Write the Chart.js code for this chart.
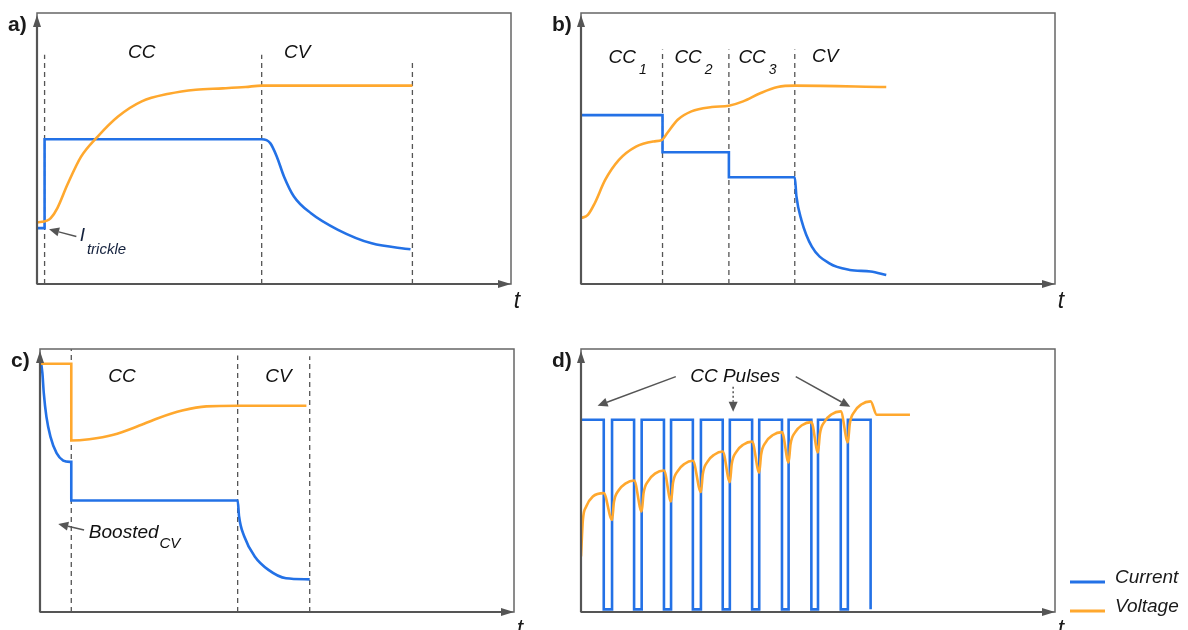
<!DOCTYPE html>
<html>
<head>
<meta charset="utf-8">
<script src="https://cdn.jsdelivr.net/npm/chart.js@4.4.1/dist/chart.umd.min.js"></script>
<style>
  html, body { margin: 0; padding: 0; background: #fff; }
  #wrap { position: relative; width: 1188px; height: 630px; overflow: hidden; }
  canvas { position: absolute; }
</style>
</head>
<body>
<div id="wrap">
  <canvas id="chart-a" width="545" height="318" style="left:0;top:0"></canvas>
  <canvas id="chart-b" width="643" height="318" style="left:545px;top:0"></canvas>
  <canvas id="chart-c" width="545" height="312" style="left:0;top:318px"></canvas>
  <canvas id="chart-d" width="643" height="312" style="left:545px;top:318px"></canvas>
</div>
<script>
// Time axis runs 0..100 across each box, values 0..100 bottom to top

// a) CC-CV with trickle
const aVoltT = [0, 2.1, 2.9, 4.3, 6.4, 9.3, 12.8, 17.1, 22.1, 27.8, 33.5, 39.2, 44, 47.4, 79.2];
const aVoltV = [22.7, 23.4, 24.3, 28.0, 36.6, 47.0, 54.4, 61.8, 67.4, 70.2, 71.7, 72.2, 72.7, 73.2, 73.2];
const aCurrT = [0, 1.6, 1.6, 47.4, 49.2, 50.6, 52.1, 54.2, 57.8, 63.5, 70.6, 78.8];
const aCurrI = [20.6, 20.6, 53.4, 53.4, 52.0, 47.0, 39.7, 32.3, 26.1, 20.0, 15.0, 12.8];
const aPhaseT = [1.6, 47.4, 79.2];
const aPhaseTop = [84.6, 84.6, 83.0];

// b) multi-stage CC
const bVoltT = [0, 1.45, 2.9, 5.1, 8.0, 11.6, 15.3, 17.1, 18.2, 20.4, 23.3, 27.6, 31.2, 34.2, 37.8, 41.5, 45.1, 64.4];
const bVoltV = [24.3, 25.5, 29.8, 38.4, 45.8, 50.7, 52.6, 53.2, 55.7, 60.6, 63.7, 65.3, 65.8, 67.4, 70.4, 72.7, 73.2, 72.7];
const bCurrT = [0, 17.2, 17.2, 31.2, 31.2, 45.1, 45.45, 46.5, 48.7, 52.4, 56.7, 61.1, 64.4];
const bCurrI = [62.3, 62.3, 48.6, 48.6, 39.4, 39.4, 32.3, 23.6, 13.8, 7.6, 5.2, 4.6, 3.3];
const bPhaseT = [17.2, 31.2, 45.1];
const bPhaseTop = [86.5, 86.5, 86.5];

// c) boosted CV start
const cVoltT = [0, 6.6, 6.6, 10.4, 15.5, 20.6, 24.9, 30.0, 35.1, 41.7, 56.2];
const cVoltV = [94.4, 94.4, 65.2, 65.7, 67.4, 70.6, 73.7, 76.6, 78.2, 78.4, 78.4];
const cCurrT = [0, 0.5, 0.8, 1.35, 2.2, 3.5, 4.9, 6.3, 6.6, 6.6, 41.7, 42.0, 43.1, 45.3, 48.2, 51.9, 56.9];
const cCurrI = [97, 90.9, 83.2, 74.3, 66.7, 60.4, 57.6, 57.1, 57.1, 42.4, 42.4, 36.3, 28.7, 21.1, 16.0, 12.8, 12.4];
const cPhaseT = [6.6, 41.7, 56.9];
const cPhaseTop = [100, 97.5, 97.2];

// d) pulse charging
const dPulseFall = [4.8, 11.2, 17.5, 23.6, 29.9, 36.1, 42.4, 48.6, 54.8, 61.1];
const dPulseRise = [6.55, 12.8, 19.0, 25.3, 31.4, 37.6, 43.8, 50.0, 56.3];
const dCurrHigh = 73.1;
const dCurrLow = 1.0;
const dVoltT = [
  0, 0.4, 1.1, 2.5, 4.8,
  6.55, 6.95, 7.95, 9.35, 11.2,
  12.8, 13.2, 14.2, 15.6, 17.5,
  19.0, 19.4, 20.4, 21.8, 23.6,
  25.3, 25.7, 26.7, 28.1, 29.9,
  31.4, 31.8, 32.8, 34.2, 36.1,
  37.6, 38.0, 39.0, 40.4, 42.4,
  43.8, 44.2, 45.2, 46.6, 48.6,
  50.0, 50.4, 51.4, 52.8, 54.8,
  56.3, 56.7, 57.7, 59.1, 61.1,
  62.4, 69.4
];
const dVoltV = [
  21.1, 35.0, 40.1, 43.9, 45.2,
  35.0, 41.8, 46.3, 48.8, 50.0,
  38.2, 45.2, 49.9, 52.6, 53.8,
  42.0, 49.0, 53.6, 56.3, 57.5,
  45.6, 52.5, 57.2, 59.8, 61.0,
  49.4, 56.3, 61.0, 63.6, 64.8,
  53.0, 59.9, 64.6, 67.2, 68.4,
  56.9, 63.8, 68.4, 71.0, 72.2,
  60.7, 67.7, 72.4, 75.1, 76.3,
  64.5, 71.5, 76.2, 78.9, 80.1,
  75.0, 75.0
];

const seriesNames = ["Current", "Voltage"];
const BLUE = "#2371e6";
const ORANGE = "#ffa82e";
const INK = "#555";
const FONT = '"Liberation Sans", Arial, sans-serif';

function pts(ts, vs) {
  return ts.map((t, i) => ({ x: t, y: vs[i] }));
}

function pulseTrain(falls, rises, hi, lo) {
  const out = [{ x: 0, y: hi }];
  falls.forEach((f, i) => {
    out.push({ x: f, y: hi }, { x: f, y: lo });
    if (i < rises.length) out.push({ x: rises[i], y: lo }, { x: rises[i], y: hi });
  });
  return out;
}

function phaseSets(ts, tops) {
  return ts.map((t, i) => ({
    data: [{ x: t, y: 0 }, { x: t, y: tops[i] }],
    borderColor: INK, borderWidth: 1.3, borderDash: [5, 4],
    pointRadius: 0, tension: 0
  }));
}

function arrow(ctx, x1, y1, x2, y2, dotted) {
  const ang = Math.atan2(y2 - y1, x2 - x1);
  const c = Math.cos(ang), s = Math.sin(ang);
  const head = 10, half = 4.5;
  ctx.save();
  ctx.strokeStyle = INK;
  ctx.fillStyle = INK;
  ctx.lineWidth = 1.5;
  if (dotted) ctx.setLineDash([2, 2.5]);
  ctx.beginPath();
  ctx.moveTo(x1, y1);
  ctx.lineTo(x2 - head * c, y2 - head * s);
  ctx.stroke();
  ctx.setLineDash([]);
  ctx.beginPath();
  ctx.moveTo(x2, y2);
  ctx.lineTo(x2 - head * c + half * s, y2 - head * s - half * c);
  ctx.lineTo(x2 - head * c - half * s, y2 - head * s + half * c);
  ctx.closePath();
  ctx.fill();
  ctx.restore();
}

function note(ctx, n, px, py) {
  const size = n.size || 19;
  ctx.font = "italic " + size + "px " + FONT;
  ctx.fillStyle = n.color || "#111";
  ctx.textBaseline = "middle";
  ctx.textAlign = "left";
  const w = ctx.measureText(n.text).width;
  const x0 = n.align === "left" ? px : px - w / 2;
  ctx.fillText(n.text, x0, py);
  if (n.sub) {
    ctx.font = "italic " + (n.subSize || 14) + "px " + FONT;
    ctx.fillText(n.sub, x0 + w + (n.gap || 2), py + (n.drop || 12));
  }
}

// frame, axes, labels, arrows and legend
const decor = {
  id: "decor",
  afterDatasetsDraw(chart, args, o) {
    const { ctx, chartArea: a, scales: { x, y } } = chart;
    ctx.save();
    ctx.strokeStyle = "#666";
    ctx.lineWidth = 1.5;
    ctx.strokeRect(a.left, a.top, a.right - a.left, a.bottom - a.top);

    // axes with heads
    ctx.strokeStyle = INK;
    ctx.lineWidth = 2.2;
    ctx.beginPath();
    ctx.moveTo(a.left, a.bottom);
    ctx.lineTo(a.left, a.top + 10);
    ctx.moveTo(a.left, a.bottom);
    ctx.lineTo(a.right - 10, a.bottom);
    ctx.stroke();
    ctx.fillStyle = INK;
    ctx.beginPath();
    ctx.moveTo(a.left, a.top + 2);
    ctx.lineTo(a.left - 4, a.top + 14);
    ctx.lineTo(a.left + 4, a.top + 14);
    ctx.closePath();
    ctx.fill();
    ctx.beginPath();
    ctx.moveTo(a.right, a.bottom);
    ctx.lineTo(a.right - 13, a.bottom - 4);
    ctx.lineTo(a.right - 13, a.bottom + 4);
    ctx.closePath();
    ctx.fill();

    // panel tag and t
    ctx.fillStyle = "#1a1a1a";
    ctx.font = "bold 21px " + FONT;
    ctx.textBaseline = "middle";
    ctx.textAlign = "left";
    ctx.fillText(o.tag, a.left - 29, a.top + 12);
    ctx.font = "italic 23px " + FONT;
    ctx.textAlign = "center";
    ctx.fillText("t", a.right + 6, a.bottom + 18);

    (o.arrows || []).forEach(r => {
      arrow(ctx, x.getPixelForValue(r[0]), y.getPixelForValue(r[1]),
        x.getPixelForValue(r[2]), y.getPixelForValue(r[3]), r[4]);
    });
    (o.notes || []).forEach(n => {
      note(ctx, n, x.getPixelForValue(n.t), y.getPixelForValue(n.v));
    });

    if (o.legend) {
      const rows = [[seriesNames[0], BLUE, -30], [seriesNames[1], ORANGE, -1]];
      rows.forEach(r => {
        const ly = a.bottom + r[2];
        ctx.strokeStyle = r[1];
        ctx.lineWidth = 3;
        ctx.beginPath();
        ctx.moveTo(a.right + 15, ly);
        ctx.lineTo(a.right + 50, ly);
        ctx.stroke();
        ctx.fillStyle = "#1a1a1a";
        ctx.font = "italic 19px " + FONT;
        ctx.textAlign = "left";
        ctx.fillText(r[0], a.right + 60, ly - 4);
      });
    }
    ctx.restore();
  }
};

function makeChart(id, volt, curr, phases, pad, deco) {
  const ctx = document.getElementById(id).getContext("2d");
  return new Chart(ctx, {
    type: "line",
    data: {
      datasets: [
        { label: seriesNames[1], data: volt, borderColor: ORANGE, borderWidth: 2.6,
          pointRadius: 0, cubicInterpolationMode: "monotone" },
        { label: seriesNames[0], data: curr, borderColor: BLUE, borderWidth: 2.6,
          pointRadius: 0, cubicInterpolationMode: deco.stepCurrent ? "default" : "monotone", tension: 0 }
      ].concat(phases)
    },
    options: {
      responsive: false,
      animation: false,
      events: [],
      layout: { padding: pad },
      scales: {
        x: { type: "linear", min: 0, max: 100, display: false },
        y: { min: 0, max: 100, display: false }
      },
      plugins: { legend: { display: false }, tooltip: { enabled: false }, decor: deco }
    },
    plugins: [decor]
  });
}

makeChart("chart-a", pts(aVoltT, aVoltV), pts(aCurrT, aCurrI), phaseSets(aPhaseT, aPhaseTop),
  { left: 37, top: 13, right: 34, bottom: 34 },
  {
    tag: "a)",
    notes: [
      { text: "CC", t: 22.1, v: 85.5 },
      { text: "CV", t: 54.9, v: 85.5 },
      { text: "I", sub: "trickle", t: 9.0, v: 17.7, align: "left", color: "#14213d", subSize: 15, gap: 0, drop: 14 }
    ],
    arrows: [[8.3, 17.5, 2.55, 20.2]]
  });

makeChart("chart-b", pts(bVoltT, bVoltV), pts(bCurrT, bCurrI), phaseSets(bPhaseT, bPhaseTop),
  { left: 36, top: 13, right: 133, bottom: 34 },
  {
    tag: "b)",
    notes: [
      { text: "CC", sub: "1", t: 8.7, v: 83.4, gap: 3 },
      { text: "CC", sub: "2", t: 22.6, v: 83.4, gap: 3 },
      { text: "CC", sub: "3", t: 36.1, v: 83.4, gap: 3 },
      { text: "CV", t: 51.5, v: 84.0 }
    ]
  });

makeChart("chart-c", pts(cVoltT, cVoltV), pts(cCurrT, cCurrI), phaseSets(cPhaseT, cPhaseTop),
  { left: 40, top: 31, right: 31, bottom: 18 },
  {
    tag: "c)",
    notes: [
      { text: "CC", t: 17.3, v: 89.3 },
      { text: "CV", t: 50.3, v: 89.6 },
      { text: "Boosted", sub: "CV", t: 10.3, v: 30.3, align: "left", subSize: 15, gap: 1, drop: 12 }
    ],
    arrows: [[9.3, 31.2, 3.85, 33.5]]
  });

makeChart("chart-d", pts(dVoltT, dVoltV), pulseTrain(dPulseFall, dPulseRise, dCurrHigh, dCurrLow), [],
  { left: 36, top: 31, right: 133, bottom: 18 },
  {
    tag: "d)",
    stepCurrent: true,
    legend: true,
    notes: [{ text: "CC Pulses", t: 32.5, v: 89.4 }],
    arrows: [
      [20.0, 89.5, 3.5, 78.4],
      [45.3, 89.5, 56.8, 78.0],
      [32.1, 85.6, 32.1, 76.1, true]
    ]
  });
</script>
</body>
</html>
